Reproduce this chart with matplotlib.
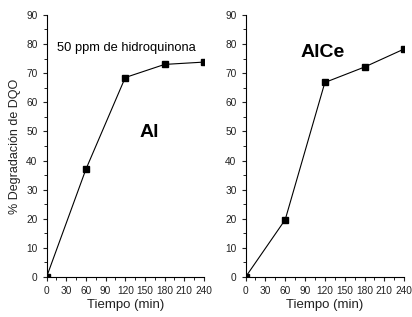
import matplotlib

matplotlib.use("Agg")
import matplotlib.pyplot as plt
from matplotlib.ticker import MultipleLocator

plt.rcParams["font.family"] = ["Liberation Sans", "DejaVu Sans"]

tiempo = [0, 60, 120, 180, 240]
dqo_al = [0, 37.0, 68.5, 73.0, 73.8]
dqo_alce = [0, 19.7, 66.8, 72.1, 78.3]

fig = plt.figure(figsize=(4.12, 3.17), dpi=100)
ax1 = fig.add_axes([0.113, 0.126, 0.382, 0.827])
ax2 = fig.add_axes([0.596, 0.126, 0.385, 0.827])

for ax, y in [(ax1, dqo_al), (ax2, dqo_alce)]:
    ax.plot(tiempo, y, color="black", lw=0.8, marker="s", ms=4.5,
            mfc="black", mec="black")
    ax.set_xlim(0, 240)
    ax.set_ylim(0, 90)
    ax.xaxis.set_major_locator(MultipleLocator(30))
    ax.xaxis.set_minor_locator(MultipleLocator(15))
    ax.yaxis.set_major_locator(MultipleLocator(10))
    ax.yaxis.set_minor_locator(MultipleLocator(5))
    ax.spines["top"].set_visible(False)
    ax.spines["right"].set_visible(False)
    ax.tick_params(which="major", direction="out", length=3, width=0.8,
                   labelsize=7.3, colors="#222222")
    ax.tick_params(which="minor", direction="out", length=2, width=0.6)
    ax.set_xlabel("Tiempo (min)", fontsize=9.5, labelpad=2, color="#222222")

ax1.set_ylabel("% Degradación de DQO", fontsize=9, labelpad=4, color="#222222")
ax1.text(16, 78.5, "50 ppm de hidroquinona", fontsize=9.3, va="center")
ax1.text(157, 49.5, "Al", fontsize=14, fontweight="bold", ha="center", va="center")
ax2.text(117, 77, "AlCe", fontsize=14, fontweight="bold", ha="center", va="center")

fig.savefig("out.png", dpi=100)
